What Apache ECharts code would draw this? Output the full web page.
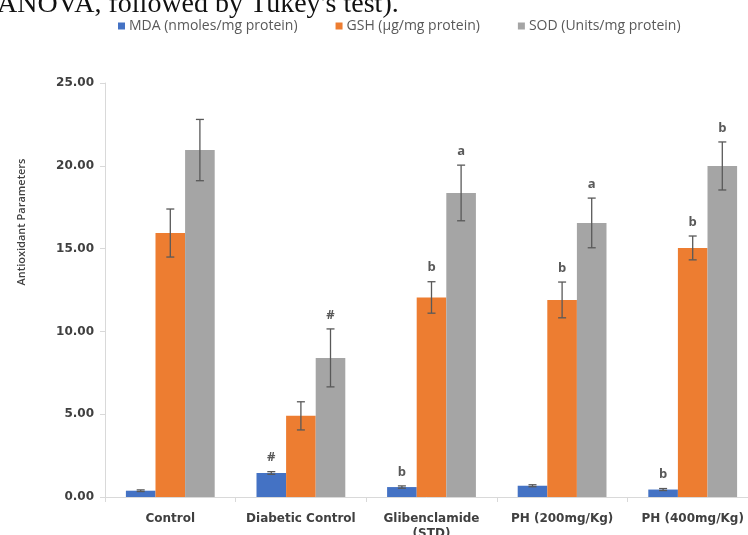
<!DOCTYPE html>
<html>
<head>
<meta charset="utf-8">
<script src="https://cdn.jsdelivr.net/npm/echarts@6/dist/echarts.min.js"></script>
<style>
  html, body { margin: 0; padding: 0; background: #fff; }
  #main { width: 748px; height: 535px; }
</style>
</head>
<body>
<div id="main"></div>
<script>
const categories = ['Control', 'Diabetic Control', 'Glibenclamide\n(STD)', 'PH (200mg/Kg)', 'PH (400mg/Kg)']
const seriesNames = ['MDA (nmoles/mg protein)', 'GSH (µg/mg protein)', 'SOD (Units/mg protein)']
const mdaValues = [0.38, 1.45, 0.6, 0.68, 0.45]
const gshValues = [15.94, 4.9, 12.05, 11.9, 15.04]
const sodValues = [20.95, 8.4, 18.36, 16.55, 19.99]
const mdaErrors = [0.05, 0.08, 0.07, 0.06, 0.06]
const gshErrors = [1.45, 0.85, 0.95, 1.08, 0.72]
const sodErrors = [1.85, 1.75, 1.68, 1.5, 1.45]
const mdaMarks = ['', '#', 'b', '', 'b']
const gshMarks = ['', '', 'b', 'b', 'b']
const sodMarks = ['', '#', 'a', 'a', 'b']
const yTicks = [0, 5, 10, 15, 20, 25]

const colors = ['#4472C4', '#ED7D31', '#A5A5A5']
const GAP = 0.32
const values = [mdaValues, gshValues, sodValues]
const errors = [mdaErrors, gshErrors, sodErrors]
const marks = [mdaMarks, gshMarks, sodMarks]

const chart = echarts.init(document.getElementById('main'))

// 误差线 + 显著性标记
function errorSeries(k) {
  return {
    type: 'custom',
    name: seriesNames[k] + ' err',
    z: 5,
    silent: true,
    data: values[k].map((v, i) => [i, v, errors[k][i]]),
    renderItem: function(params, api) {
      const x = api.value(0)
      const v = api.value(1)
      const e = api.value(2)
      const band = api.size([1, 0])[0]
      const bw = band * (1 - GAP) / 3
      const cx = api.coord([x, v])[0] + (k - 1) * bw
      const hi = api.coord([x, v + e])[1]
      const lo = api.coord([x, v - e])[1]
      const half = 4
      const st = { stroke: '#595959', lineWidth: 1.3 }
      const children = [
        { type: 'line', shape: { x1: cx, y1: hi, x2: cx, y2: lo }, style: st },
        { type: 'line', shape: { x1: cx - half, y1: hi, x2: cx + half, y2: hi }, style: st },
        { type: 'line', shape: { x1: cx - half, y1: lo, x2: cx + half, y2: lo }, style: st }
      ]
      const m = marks[k][params.dataIndex]
      if (m) {
        children.push({
          type: 'text',
          style: {
            text: m, x: cx, y: hi - 14, align: 'center', verticalAlign: 'middle',
            fill: '#595959', font: 'bold 13px "Open Sans"'
          }
        })
      }
      return { type: 'group', children: children }
    }
  }
}

const series = []
for (let k = 0; k < 3; k++) {
  series.push({
    name: seriesNames[k],
    type: 'bar',
    data: values[k],
    barGap: '0%',
    barCategoryGap: (GAP * 100) + '%',
    itemStyle: { color: colors[k] }
  })
}
for (let k = 0; k < 3; k++) series.push(errorSeries(k))

const option = {
  animation: false,
  backgroundColor: '#fff',
  textStyle: { fontFamily: '"Open Sans", sans-serif' },
  graphic: [{
    type: 'text',
    left: -3,
    top: -9,
    style: {
      text: 'ANOVA, followed by Tukey\'s test).',
      font: '28px "Liberation Serif"',
      fill: '#111'
    }
  }, {
    // y 轴标题（原图偏上，不在轴中间）
    type: 'text',
    x: 22,
    y: 222,
    rotation: Math.PI / 2,
    style: {
      text: 'Antioxidant Parameters',
      align: 'center',
      verticalAlign: 'middle',
      font: '600 11px "Open Sans"',
      fill: '#404040'
    }
  }],
  legend: {
    data: seriesNames,
    left: 113,
    top: 14,
    icon: 'rect',
    itemWidth: 7,
    itemHeight: 7,
    itemGap: 38,
    textStyle: { color: '#595959', fontSize: 14, padding: [0, 0, 0, -1] }
  },
  grid: { left: 105, top: 83, width: 653, height: 414, outerBoundsMode: 'none' },
  xAxis: {
    type: 'category',
    data: categories,
    axisLine: { lineStyle: { color: '#d9d9d9', width: 1 } },
    axisTick: { show: true, length: 5, lineStyle: { color: '#d9d9d9' } },
    axisLabel: {
      interval: 0,
      color: '#404040', fontWeight: 'bold', fontSize: 12, margin: 14, lineHeight: 15,
      fontFamily: '"DejaVu Sans"'
    }
  },
  yAxis: {
    type: 'value',
    min: yTicks[0],
    max: yTicks[yTicks.length - 1],
    interval: 5,
    splitLine: { show: false },
    axisLine: { show: true, lineStyle: { color: '#d9d9d9', width: 1 } },
    axisTick: { show: true, length: 5, lineStyle: { color: '#d9d9d9' } },
    axisLabel: {
      color: '#404040', fontWeight: 'bold', fontSize: 12, margin: 11,
      fontFamily: '"DejaVu Sans"',
      formatter: v => v.toFixed(2)
    }
  },
  series: series
}

chart.setOption(option)
</script>
</body>
</html>
